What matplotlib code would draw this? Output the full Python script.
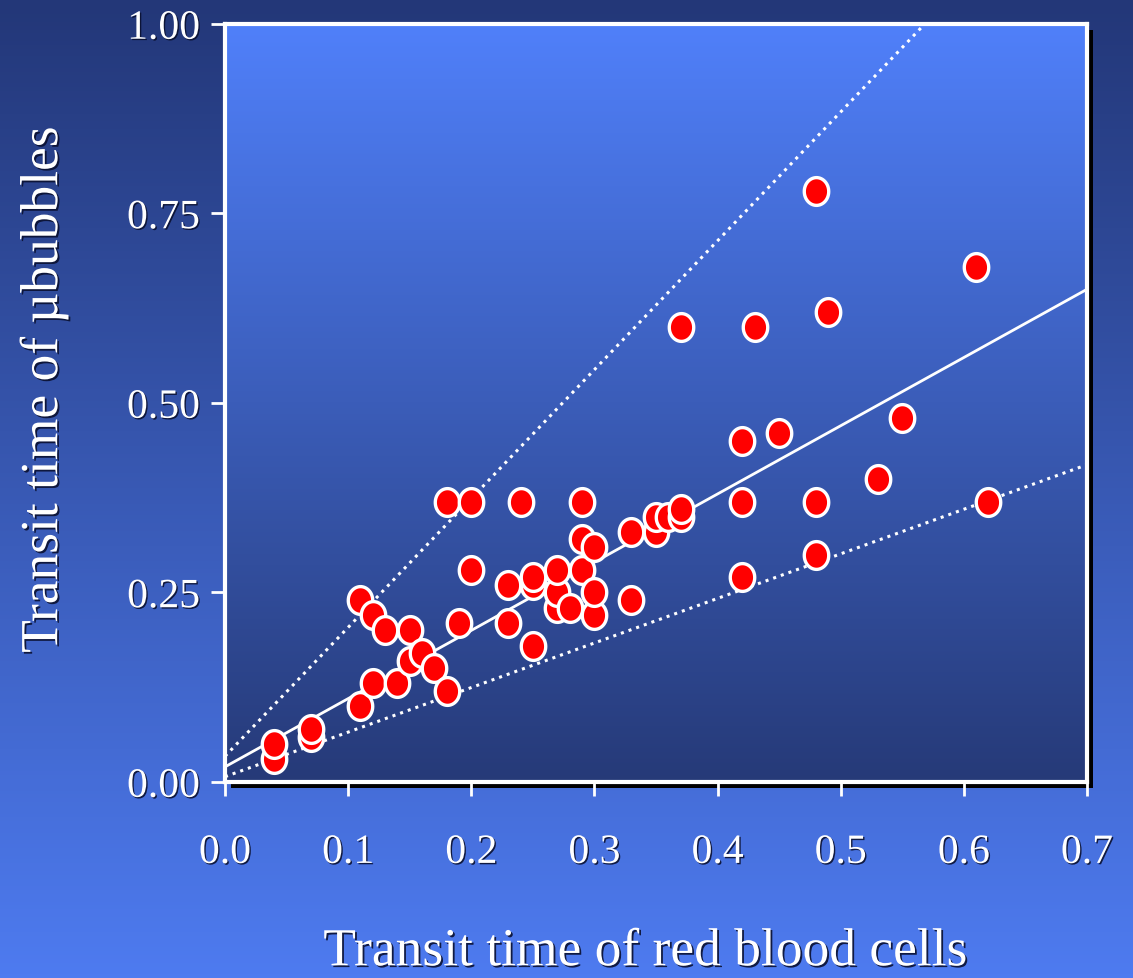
import numpy as np
import matplotlib
matplotlib.use("Agg")
import matplotlib.pyplot as plt
from matplotlib.path import Path
from matplotlib.patches import Rectangle
import matplotlib.patheffects as pe

# transit times (s): red blood cells vs microbubbles
rbc = [0.04, 0.04, 0.07, 0.07, 0.11, 0.11, 0.12, 0.12, 0.13, 0.14,
       0.15, 0.15, 0.16, 0.17, 0.18, 0.18, 0.19, 0.20, 0.20, 0.23,
       0.23, 0.24, 0.25, 0.25, 0.25, 0.27, 0.27, 0.27, 0.28, 0.29,
       0.29, 0.29, 0.30, 0.30, 0.30, 0.33, 0.33, 0.35, 0.35, 0.36,
       0.37, 0.37, 0.37, 0.42, 0.42, 0.42, 0.43, 0.45, 0.48, 0.48,
       0.48, 0.49, 0.53, 0.55, 0.61, 0.62]
bub = [0.03, 0.05, 0.06, 0.07, 0.10, 0.24, 0.13, 0.22, 0.20, 0.13,
       0.16, 0.20, 0.17, 0.15, 0.12, 0.37, 0.21, 0.28, 0.37, 0.21,
       0.26, 0.37, 0.18, 0.26, 0.27, 0.23, 0.25, 0.28, 0.23, 0.28,
       0.32, 0.37, 0.22, 0.25, 0.31, 0.24, 0.33, 0.33, 0.35, 0.35,
       0.35, 0.36, 0.60, 0.27, 0.37, 0.45, 0.60, 0.46, 0.30, 0.37,
       0.78, 0.62, 0.40, 0.48, 0.68, 0.37]

# regression line and the two dotted bounds: (intercept, slope)
fit_line = (0.020, 0.90)
upper_line = (0.034, 1.700)
lower_line = (0.007, 0.588)

xticks = [0.0, 0.1, 0.2, 0.3, 0.4, 0.5, 0.6, 0.7]
yticks = [0.0, 0.25, 0.50, 0.75, 1.00]

plt.rcParams['font.family'] = ['Liberation Serif', 'DejaVu Serif']

def text_shadow(d):
    return [pe.withSimplePatchShadow(offset=(d, -d), shadow_rgbFace='#0a1030', alpha=0.9)]

fig = plt.figure(figsize=(11.33, 9.79), dpi=100)

# figure background: dark navy at top to bright blue at bottom
bg = fig.add_axes([0, 0, 1, 1], zorder=-10)
grad = np.linspace(0, 1, 256).reshape(-1, 1)
top_c = np.array([0x23, 0x37, 0x78]) / 255
bot_c = np.array([0x4e, 0x7b, 0xf0]) / 255
bg.imshow(top_c + (bot_c - top_c) * grad[:, :, None], aspect='auto',
          extent=[0, 1, 0, 1], origin='upper')
bg.set_xlim(0, 1)
bg.set_ylim(0, 1)
bg.axis('off')

left, bottom, w, h = 0.1986, 0.2002, 0.7608, 0.7743
# drop shadow behind the plot box
bg.add_patch(Rectangle((left + 6 / 1133, bottom - 6 / 979), w, h,
                       facecolor='black', edgecolor='none', zorder=5))

ax = fig.add_axes([left, bottom, w, h])
ax.set_xlim(0, 0.7)
ax.set_ylim(0, 1.0)

# plot area: bright blue at top fading to navy at bottom
a_top = np.array([0x50, 0x80, 0xfa]) / 255
a_bot = np.array([0x26, 0x3a, 0x78]) / 255
ax.imshow(a_top + (a_bot - a_top) * grad[:, :, None], aspect='auto',
          extent=[0, 0.7, 0, 1.0], origin='upper', zorder=0)

xs = np.array([0, 0.7])
for (b0, b1), ls in [(upper_line, ':'), (lower_line, ':'), (fit_line, '-')]:
    ax.plot(xs, b0 + b1 * xs, color='white', lw=2.2 if ls == ':' else 2.0,
            linestyle=ls, zorder=2)

# slightly tall elliptical marker
t = np.linspace(0, 2 * np.pi, 60)
ell = Path(np.column_stack([0.88 * np.cos(t), np.sin(t)]), closed=True)
ax.plot(rbc, bub, linestyle='none', marker=ell, markersize=20,
        markerfacecolor='#ff0000', markeredgecolor='white',
        markeredgewidth=2.4, zorder=3)

for s in ax.spines.values():
    s.set_color('white')
    s.set_linewidth(3)
    s.set_zorder(4)

ax.set_xticks(xticks)
ax.set_xticklabels(['%.1f' % v for v in xticks])
ax.set_yticks(yticks)
ax.set_yticklabels(['%.2f' % v for v in yticks])
ax.tick_params(axis='x', direction='out', length=10, width=2, color='white',
               labelcolor='white', labelsize=30, pad=27)
ax.tick_params(axis='y', direction='out', length=10, width=2, color='white',
               labelcolor='white', labelsize=30, pad=8)
for lab in ax.get_xticklabels() + ax.get_yticklabels():
    lab.set_path_effects(text_shadow(1))

ax.set_xlabel('Transit time of red blood cells', color='white', fontsize=38.5)
ax.set_ylabel('Transit time of µbubbles', color='white', fontsize=38.5)
ax.xaxis.set_label_coords(0.488, -0.193)
ax.yaxis.set_label_coords(-0.182, 0.518)
for lab in [ax.xaxis.label, ax.yaxis.label]:
    lab.set_path_effects(text_shadow(1.3))

fig.savefig('out.png', dpi=100)
